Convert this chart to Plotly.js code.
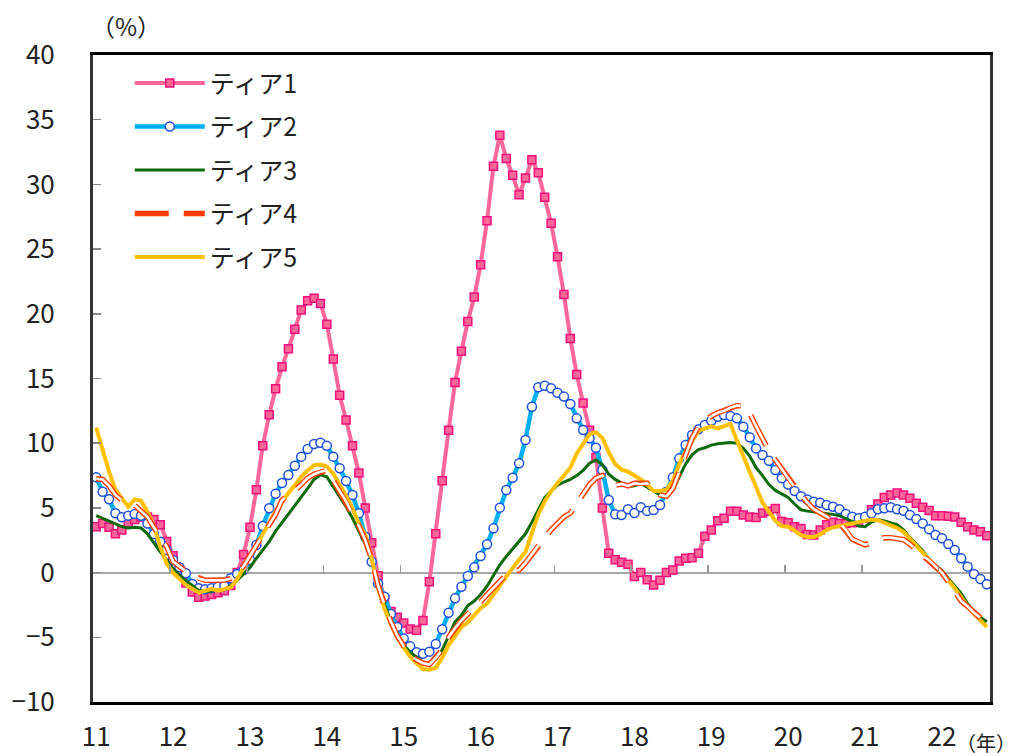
<!DOCTYPE html>
<html><head><meta charset="utf-8">
<script src="https://cdn.plot.ly/plotly-3.0.1.min.js"></script>
<style>html,body{margin:0;padding:0;background:#fff}#chart{width:1023px;height:756px}</style>
</head><body><div id="chart"></div>
<script>
const seriesNames = ['ティア1','ティア2','ティア3','ティア4','ティア5'];
const yearLabels = ['11','12','13','14','15','16','17','18','19','20','21','22'];
const startYear = 2011;

const tier1 = [3.55,3.8,3.5,3.0,3.3,3.85,4.1,4.3,4.3,4.1,3.7,2.4,1.3,0.2,-0.8,-1.5,-1.9,-1.8,-1.7,-1.55,
  -1.4,-1.0,0.0,1.4,3.5,6.4,9.8,12.2,14.2,15.9,17.3,18.8,20.3,21.0,21.2,20.8,19.2,16.5,13.7,11.8,
  9.8,7.7,5.0,2.3,-0.25,-2.0,-3.0,-3.45,-3.9,-4.35,-4.45,-3.7,-0.7,3.0,7.1,11.0,14.7,17.1,19.4,21.3,
  23.8,27.2,31.4,33.8,32.0,30.7,29.2,30.5,31.9,30.9,29.0,27.0,24.4,21.5,18.1,15.3,13.1,11.0,8.9,5.0,
  1.5,1.0,0.8,0.65,-0.3,0.0,-0.55,-0.95,-0.6,0.0,0.2,0.9,1.1,1.15,1.5,2.8,3.3,4.0,4.2,4.75,
  4.75,4.45,4.3,4.25,4.6,4.75,4.95,3.95,3.85,3.55,3.4,2.95,2.9,3.3,3.7,3.9,3.8,3.8,3.85,3.95,
  4.2,4.85,5.3,5.8,6.0,6.15,6.0,5.75,5.35,5.05,4.8,4.4,4.4,4.35,4.3,3.9,3.55,3.3,3.15,2.85];

const tier2 = [7.36,6.25,5.66,4.58,4.27,4.4,4.53,4.4,3.8,2.98,2.39,1.75,0.97,0.41,-0.05,-0.88,-1.21,-1.29,-1.21,-1.09,
  -1.04,-0.44,-0.1,0.2,0.97,2.13,3.6,4.97,6.1,6.93,7.54,8.26,8.96,9.55,9.94,10.04,9.8,8.96,8.06,7.08,
  6.0,4.58,2.77,0.84,-0.85,-1.86,-3.2,-4.2,-5.1,-5.7,-6.15,-6.27,-6.11,-5.52,-4.38,-3.1,-1.99,-1.09,-0.26,0.41,
  1.28,2.19,3.42,5.02,6.38,7.33,8.45,10.25,12.82,14.32,14.44,14.24,13.9,13.6,13.03,11.92,11.02,10.38,9.65,7.93,
  5.61,4.5,4.45,4.89,4.6,5.05,4.77,4.84,5.22,6.25,7.36,8.83,9.86,10.63,11.07,11.4,11.74,12.05,12.18,12.1,
  11.92,11.28,10.46,9.6,9.09,8.65,7.93,7.3,6.8,6.3,5.9,5.65,5.48,5.4,5.22,5.09,4.89,4.53,4.32,4.2,
  4.32,4.58,4.89,4.97,5.05,4.89,4.78,4.45,4.14,3.8,3.35,2.9,2.65,2.21,1.75,1.1,0.46,-0.11,-0.49,-0.9];

const tier3 = [4.4,4.2,4.0,3.75,3.55,3.45,3.5,3.45,3.0,2.3,1.6,1.0,0.3,-0.2,-0.65,-1.0,-1.4,-1.45,-1.45,-1.35,
  -1.3,-1.0,-0.6,-0.1,0.4,1.1,1.75,2.4,3.2,3.85,4.5,5.15,5.8,6.5,7.2,7.55,7.4,6.65,5.9,5.1,
  4.2,3.2,2.2,0.95,-1.0,-2.4,-3.8,-4.9,-5.6,-6.15,-6.55,-6.9,-7.0,-6.7,-6.0,-4.95,-3.8,-3.3,-2.55,-2.2,
  -1.7,-1.05,-0.2,0.6,1.25,1.85,2.4,3.0,3.9,4.9,5.8,6.3,6.75,7.0,7.2,7.5,7.9,8.45,8.7,8.35,
  7.6,7.2,6.9,6.65,6.7,6.9,6.6,6.3,6.0,6.0,6.4,7.4,8.4,9.1,9.5,9.65,9.85,9.95,10.0,10.05,
  10.0,9.6,9.0,8.1,7.5,6.8,6.35,6.05,5.8,5.3,4.85,4.75,4.7,4.65,4.6,4.5,4.4,4.2,3.95,3.6,
  3.55,3.9,4.1,4.0,3.85,3.7,3.3,2.7,2.2,1.7,1.0,0.55,0.15,-0.45,-1.0,-1.6,-2.4,-3.0,-3.45,-3.8];

const tier4 = [7.25,7.2,6.7,6.0,5.6,5.4,5.2,4.75,4.3,3.5,2.7,2.0,0.85,0.45,0.1,-0.2,-0.45,-0.6,-0.6,-0.62,
  -0.58,-0.45,-0.1,0.5,1.3,2.2,3.0,3.8,4.5,5.6,5.95,6.35,6.8,7.3,7.6,7.8,7.9,7.15,6.3,5.5,
  4.6,3.6,2.5,1.0,-1.0,-2.5,-3.8,-4.9,-5.7,-6.4,-6.75,-7.0,-7.1,-6.6,-5.95,-5.0,-4.3,-3.7,-3.2,-2.75,
  -2.25,-1.7,-1.2,-0.7,-0.15,0.1,0.2,0.75,1.4,2.1,2.75,3.3,3.8,4.3,4.6,5.4,6.1,6.8,7.3,7.5,
  7.0,6.75,6.85,6.7,6.9,6.85,6.9,6.4,6.0,5.9,6.5,7.8,9.1,10.4,11.3,11.7,12.1,12.35,12.5,12.75,
  12.9,12.9,12.3,11.3,10.3,9.4,8.7,8.0,7.3,6.6,6.0,5.4,4.9,4.6,4.3,4.05,3.85,3.3,2.6,2.35,
  2.15,2.3,2.5,2.7,2.7,2.65,2.55,2.2,1.75,1.3,0.95,0.45,0.0,-0.7,-1.45,-2.2,-2.6,-3.1,-3.5,-3.95];

const tier5 = [11.2,9.4,7.8,6.4,5.7,5.1,5.65,5.55,4.7,3.6,2.0,0.7,0.0,-0.5,-0.95,-1.25,-1.55,-1.4,-1.25,-1.4,
  -1.3,-1.15,-0.5,0.35,1.15,2.0,2.95,3.85,4.75,5.5,6.15,6.75,7.4,7.9,8.3,8.35,8.2,7.65,6.85,5.95,
  4.95,3.8,2.9,1.1,-1.2,-2.8,-4.0,-5.0,-5.8,-6.5,-7.0,-7.45,-7.5,-7.35,-6.6,-5.6,-4.9,-4.2,-3.85,-3.35,
  -2.75,-2.4,-1.65,-1.0,-0.3,0.4,1.0,1.6,3.0,4.5,5.5,6.3,6.9,7.5,8.1,9.2,9.9,10.7,10.85,10.4,
  9.3,8.4,7.95,7.8,7.5,7.2,6.8,6.3,6.3,6.4,7.1,8.4,9.4,10.2,10.95,11.15,11.3,11.15,11.35,11.5,
  10.2,8.9,7.8,6.6,5.4,4.7,4.0,3.6,3.55,3.25,2.9,2.75,2.75,2.95,3.3,3.5,3.6,3.7,3.8,3.9,
  4.0,4.1,4.05,3.85,3.65,3.45,3.15,2.65,2.15,1.55,1.0,0.5,0.0,-0.6,-1.2,-1.95,-2.6,-3.2,-3.7,-4.2];

const n = tier1.length;
const monthIdx = Array.from({length: n}, (_, i) => i);
const yearTickVals = yearLabels.map((_, k) => k * 12);
const yearBoundaries = yearLabels.map((_, k) => k * 12 - 0.5);

const FONT = '"Noto Sans CJK JP", "Noto Sans", sans-serif';
const dashPat = '34px,15px';

const traces = [
  {x: monthIdx, y: tier1, name: seriesNames[0], type: 'scatter', mode: 'lines+markers',
   legendgroup: 'g1', legendrank: 1,
   line: {color: '#FF6699', width: 4},
   marker: {symbol: 'square', size: 8, color: '#FF6699', line: {color: '#F0107A', width: 1.5}}},
  {x: monthIdx, y: tier2, name: seriesNames[1], type: 'scatter', mode: 'lines+markers',
   legendgroup: 'g2', legendrank: 2,
   line: {color: '#00B0F0', width: 4.5},
   marker: {symbol: 'circle', size: 9, color: '#FFFFFF', line: {color: '#1F4FE0', width: 1.5}}},
  {x: monthIdx, y: tier3, name: seriesNames[2], type: 'scatter', mode: 'lines',
   legendgroup: 'g3', legendrank: 3,
   line: {color: '#0B6A0B', width: 3}},
  {x: monthIdx, y: tier5, name: seriesNames[4], type: 'scatter', mode: 'lines',
   legendgroup: 'g5', legendrank: 5,
   line: {color: '#FFC000', width: 4}},
  {x: monthIdx, y: tier4, name: seriesNames[3], type: 'scatter', mode: 'lines',
   legendgroup: 'g4', legendrank: 4,
   line: {color: '#FF3C00', width: 5.5, dash: dashPat}},
  {x: monthIdx, y: tier4, name: seriesNames[3], type: 'scatter', mode: 'lines',
   legendgroup: 'g4', showlegend: false, hoverinfo: 'skip',
   line: {color: '#FFFFFF', width: 2.6, dash: dashPat}},
  {x: [], y: [], xaxis: 'x2', yaxis: 'y', showlegend: false, hoverinfo: 'skip', type: 'scatter'}
];

const layout = {
  width: 1023, height: 756,
  margin: {l: 93, r: 33, t: 55, b: 54, pad: 0},
  paper_bgcolor: '#FFFFFF', plot_bgcolor: '#FFFFFF',
  font: {family: FONT, color: '#222222'},
  showlegend: true,
  legend: {x: 0.041, y: 0.992, xanchor: 'left', yanchor: 'top',
           bgcolor: 'rgba(0,0,0,0)', borderwidth: 0,
           font: {family: FONT, size: 25, color: '#222222'},
           itemwidth: 70, tracegroupgap: 8, traceorder: 'grouped'},
  xaxis: {range: [-0.5, n - 0.5], tickmode: 'array', tickvals: yearTickVals, ticktext: yearLabels,
          ticks: '', showline: true, linecolor: '#000000', linewidth: 3, mirror: true,
          showgrid: false, zeroline: false, ticklabelstandoff: 10,
          tickfont: {family: FONT, size: 26, color: '#222222'}},
  xaxis2: {overlaying: 'x', anchor: 'free', position: 0.2, side: 'bottom',
           range: [-0.5, n - 0.5], tickmode: 'array', tickvals: yearBoundaries,
           ticks: 'inside', ticklen: 8, tickwidth: 1.5, tickcolor: '#999999',
           showticklabels: false, showline: false, showgrid: false, zeroline: false},
  yaxis: {range: [-10, 40], tickmode: 'linear', tick0: -10, dtick: 5,
          ticks: 'inside', ticklen: 8, tickwidth: 1.5, tickcolor: '#888888',
          showline: true, linecolor: '#333333', linewidth: 3, mirror: true,
          showgrid: false, zeroline: true, zerolinecolor: '#A6A6A6', zerolinewidth: 2,
          ticklabelstandoff: 30,
          tickfont: {family: FONT, size: 26, color: '#222222'}},
  annotations: [
    {text: '（%）', xref: 'paper', yref: 'paper', x: 0.037, y: 1.046, showarrow: false,
     xanchor: 'center', yanchor: 'middle', font: {family: FONT, size: 24, color: '#222222'}},
    {text: '（年）', xref: 'paper', yref: 'paper', x: 0.9955, y: -0.062, showarrow: false,
     xanchor: 'center', yanchor: 'middle', font: {family: FONT, size: 20, color: '#222222'}}
  ]
};

Plotly.newPlot('chart', traces, layout, {displayModeBar: false, staticPlot: true});
</script>
</body></html>
